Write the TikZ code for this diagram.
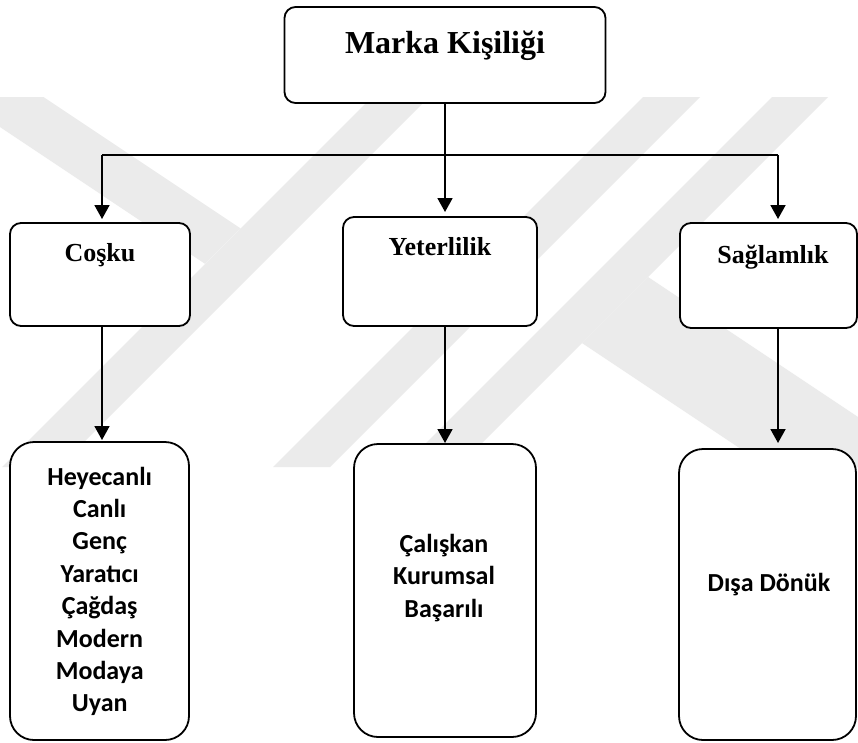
\documentclass[tikz,border=0pt]{standalone}
\usepackage{fontspec}
\setmainfont{Liberation Serif}
\newfontfamily\calibfont{Carlito}
\usetikzlibrary{arrows.meta}
\definecolor{wmgray}{HTML}{EBEBEB}
\begin{document}
\begin{tikzpicture}[x=1pt,y=-1pt,
  box/.style={draw, fill=white, line width=1.8pt, rounded corners=11pt, inner sep=0pt, outer sep=0pt},
  bigbox/.style={draw, fill=white, line width=1.8pt, rounded corners=24pt, inner sep=0pt, outer sep=0pt},
  headtxt/.style={font=\fontsize{26}{30}\selectfont\bfseries, anchor=base, inner sep=0pt},
  titletxt/.style={font=\fontsize{32}{36}\selectfont\bfseries, anchor=base, inner sep=0pt},
  listtxt/.style={font=\calibfont\bfseries\fontsize{26}{32.4}\selectfont, anchor=base, inner sep=0pt, align=center},
  conn/.style={line width=1.8pt},
  arr/.style={line width=1.8pt, -{Triangle[length=14pt,width=15pt]}},
  wm/.style={fill=wmgray, draw=none}
]
\useasboundingbox (0,0) rectangle (858,742);
\fill[white] (0,0) rectangle (858,742);
% watermark
\begin{scope}
\clip (0,97) rectangle (858,467);
\fill[wm] (-45,97) -- (43.5,97) -- (240.6,228.4) -- (205,263.8) -- cycle;
\fill[wm] (372,97) -- (429,97) -- (59,467) -- (2,467) -- cycle;
\fill[wm] (643,97) -- (700,97) -- (330,467) -- (273,467) -- cycle;
\fill[wm] (772,97) -- (828,97) -- (458,467) -- (402,467) -- cycle;
\fill[wm] (648,277) -- (858,417) -- (858,467) -- (768,467) -- (582,343) -- cycle;
\end{scope}
% boxes
\node[box, minimum width=321pt, minimum height=96pt] (top) at (445,55) {};
\node[box, minimum width=180pt, minimum height=103pt] (cosku) at (100,274.5) {};
\node[box, minimum width=194pt, minimum height=109pt] (yeter) at (440,271.5) {};
\node[box, minimum width=177pt, minimum height=105pt] (sag) at (768.5,275.5) {};
\node[bigbox, minimum width=179pt, minimum height=298pt] (b1) at (99.5,591) {};
\node[bigbox, minimum width=182pt, minimum height=293pt] (b2) at (445,590.5) {};
\node[bigbox, minimum width=177pt, minimum height=291pt] (b3) at (767.5,594.5) {};
% texts
\node[titletxt] (ttitle) at (445,53.5) {Marka Kişiliği};
\node[headtxt] (tcosku) at (100,261) {Coşku};
\node[headtxt] (tyeter) at (440,255) {Yeterlilik};
\node[headtxt] (tsag) at (773,263) {Sağlamlık};
\node[listtxt] (tb1) at (99.7,711.8) {Heyecanlı\\Canlı\\Genç\\Yaratıcı\\Çağdaş\\Modern\\Modaya\\Uyan};
\node[listtxt] (tb2) at (444,617) {Çalışkan\\Kurumsal\\Başarılı};
\node[listtxt] (tb3) at (769,591) {Dışa Dönük};
% connectors
\coordinate (jl) at (102,155);
\coordinate (jr) at (778,155);
\draw[conn] (jl) -- (jr);
\draw[arr, shorten >=4pt] (jl) -- (jl |- cosku.north);
\draw[arr, shorten >=4pt] (jr) -- (jr |- sag.north);
\draw[arr, shorten >=5pt] (top.south) -- (top.south |- yeter.north);
\draw[arr, shorten >=2pt] (cosku.south -| jl) -- (b1.north -| jl);
\draw[arr, shorten >=1pt] (yeter.south -| top.south) -- (b2.north -| top.south);
\draw[arr, shorten >=6pt] (sag.south -| jr) -- (b3.north -| jr);
\end{tikzpicture}
\end{document}
